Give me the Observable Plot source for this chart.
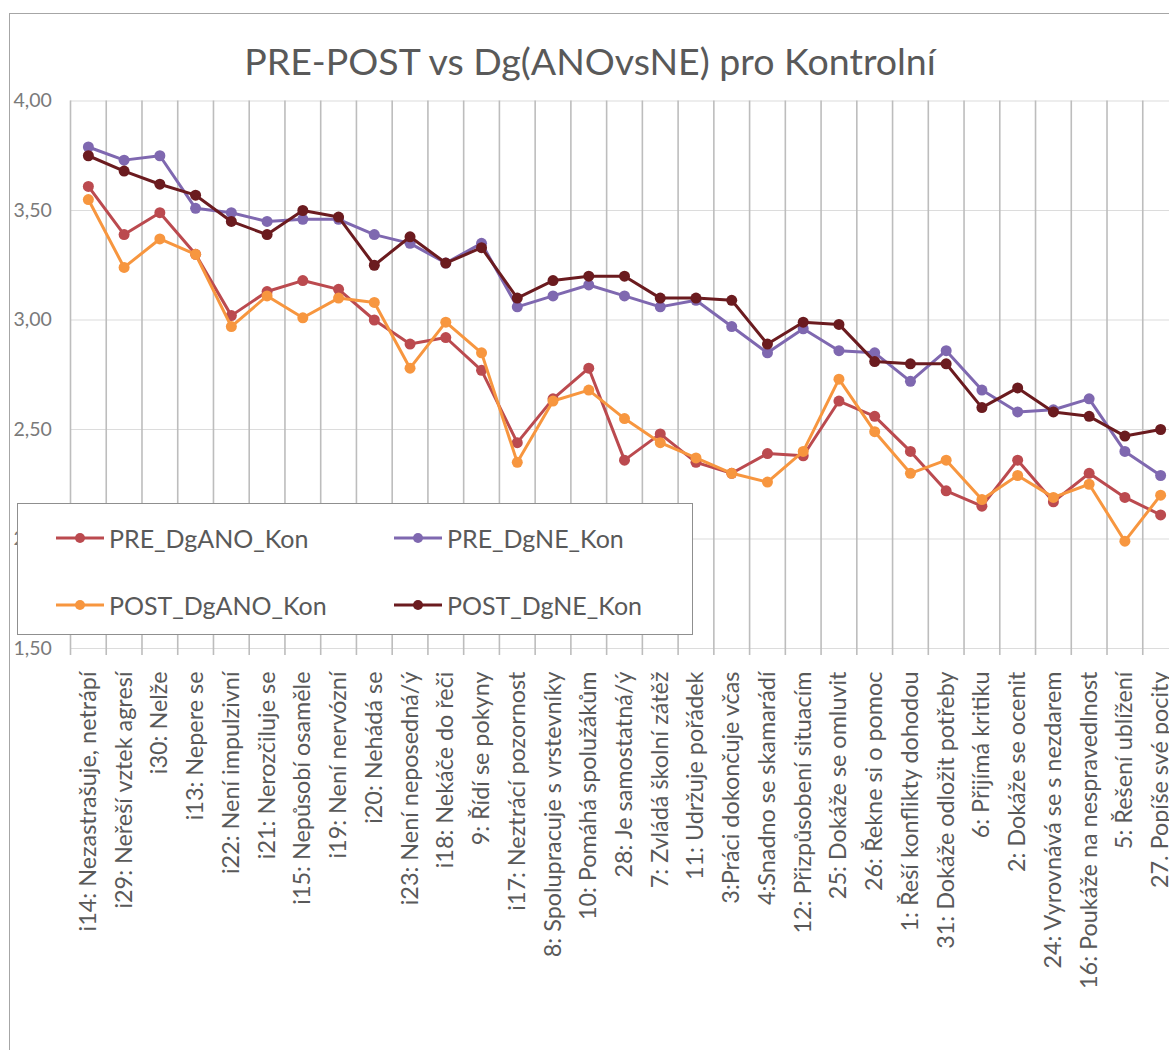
<!DOCTYPE html>
<html><head><meta charset="utf-8">
<script src="https://cdn.jsdelivr.net/npm/d3@7"></script>
<script src="https://cdn.jsdelivr.net/npm/@observablehq/plot@0.6"></script>
<style>
html,body{margin:0;padding:0;overflow:hidden;background:#fff;}
#wrap{position:relative;width:1169px;height:1050px;overflow:hidden;font-family:Lato,sans-serif;background:#fff;}
#frame{position:absolute;left:9px;top:13px;width:1300px;height:1200px;border-top:1px solid #a6a6a6;border-left:1px solid #a6a6a6;}
#title{position:absolute;left:0;width:1180px;top:42px;text-align:center;font-size:37.5px;line-height:37.5px;color:#595959;white-space:nowrap;}
#chart{position:absolute;left:0;top:0;}
#legend{position:absolute;left:17px;top:503px;width:676px;height:132px;border:1px solid #8f8f8f;background:#fff;box-sizing:border-box;}
.item{position:absolute;display:flex;align-items:center;font-size:25px;color:#595959;white-space:nowrap;}
.item svg{margin-right:5px;}
</style></head>
<body>
<div id="wrap">
<div id="frame"></div>
<div id="chart"></div>
<div id="title">PRE-POST vs Dg(ANOvsNE) pro Kontrolní</div>
<div id="legend"></div>
</div>
<script>
const categories = [
  "i14: Nezastrašuje, netrápí",
  "i29: Neřeší vztek agresí",
  "i30: Nelže",
  "i13: Nepere se",
  "i22: Není impulzivní",
  "i21: Nerozčiluje se",
  "i15: Nepůsobí osaměle",
  "i19: Není nervózní",
  "i20: Nehádá se",
  "i23: Není neposedná/ý",
  "i18: Nekáče do řeči",
  "9: Řídí se pokyny",
  "i17: Neztrácí pozornost",
  "8: Spolupracuje s vrstevníky",
  "10: Pomáhá spolužákům",
  "28: Je samostatná/ý",
  "7: Zvládá školní zátěž",
  "11: Udržuje pořádek",
  "3:Práci dokončuje včas",
  "4:Snadno se skamarádí",
  "12: Přizpůsobení situacím",
  "25: Dokáže se omluvit",
  "26: Řekne si o pomoc",
  "1: Řeší konflikty dohodou",
  "31: Dokáže odložit potřeby",
  "6: Přijímá kritiku",
  "2: Dokáže se ocenit",
  "24: Vyrovnává se s nezdarem",
  "16: Poukáže na nespravedlnost",
  "5: Řešení ublížení",
  "27. Popíše své pocity"
];

const seriesNames = ["PRE_DgANO_Kon", "PRE_DgNE_Kon", "POST_DgANO_Kon", "POST_DgNE_Kon"];
const seriesColors = ["#bb4a4f", "#7f68b0", "#f7963f", "#6b1b1f"];

const PRE_DgANO_Kon = [3.61,3.39,3.49,3.30,3.02,3.13,3.18,3.14,3.00,2.89,2.92,2.77,2.44,2.64,2.78,2.36,2.48,2.35,2.30,2.39,2.38,2.63,2.56,2.40,2.22,2.15,2.36,2.17,2.30,2.19,2.11];
const PRE_DgNE_Kon = [3.79,3.73,3.75,3.51,3.49,3.45,3.46,3.46,3.39,3.35,3.26,3.35,3.06,3.11,3.16,3.11,3.06,3.09,2.97,2.85,2.96,2.86,2.85,2.72,2.86,2.68,2.58,2.59,2.64,2.40,2.29];
const POST_DgANO_Kon = [3.55,3.24,3.37,3.30,2.97,3.11,3.01,3.10,3.08,2.78,2.99,2.85,2.35,2.63,2.68,2.55,2.44,2.37,2.30,2.26,2.40,2.73,2.49,2.30,2.36,2.18,2.29,2.19,2.25,1.99,2.20];
const POST_DgNE_Kon = [3.75,3.68,3.62,3.57,3.45,3.39,3.50,3.47,3.25,3.38,3.26,3.33,3.10,3.18,3.20,3.20,3.10,3.10,3.09,2.89,2.99,2.98,2.81,2.80,2.80,2.60,2.69,2.58,2.56,2.47,2.50];

const yTicks = [1.5, 2.0, 2.5, 3.0, 3.5, 4.0];

const seriesValues = [PRE_DgANO_Kon, PRE_DgNE_Kon, POST_DgANO_Kon, POST_DgNE_Kon];
const rows = seriesNames.map((name, k) => seriesValues[k].map((v, i) => ({i, v, s: name})));
const idx = d3.range(categories.length);
const bounds = d3.range(categories.length + 1).map(i => i - 0.5);

const chart = Plot.plot({
  width: 1190,
  height: 1050,
  marginLeft: 70,
  marginRight: 12,
  marginTop: 100.5,
  marginBottom: 402,
  style: {maxWidth: "none", fontFamily: "Lato, sans-serif", background: "transparent", overflow: "visible"},
  x: {type: "linear", domain: [-0.5, categories.length - 0.5]},
  y: {domain: [1.5, 4]},
  color: {domain: seriesNames, range: seriesColors},
  marks: [
    Plot.ruleY(yTicks, {stroke: "#dcdcdc", strokeWidth: 1.2}),
    Plot.ruleX(bounds, {y1: 4, y2: 1.5, insetBottom: -7, stroke: "#bdbdbd", strokeWidth: 1.6}),
    Plot.axisY({ticks: yTicks, tickFormat: d => d.toFixed(2).replace(".", ","), tickSize: 0, tickPadding: 57, textAnchor: "start", fontSize: 19.5, fill: "#7a7a7a", label: null}),
    Plot.axisX({ticks: idx, tickFormat: i => categories[i], tickRotate: -90, tickSize: 0, tickPadding: 23, fontSize: 23.4, fill: "#595959", label: null}),
    ...rows.flatMap(r => [
      Plot.line(r, {x: "i", y: "v", stroke: "s", strokeWidth: 3}),
      Plot.dot(r, {x: "i", y: "v", fill: "s", r: 5.5})
    ])
  ]
});
document.getElementById("chart").appendChild(chart);

// legend
const legend = document.getElementById("legend");
const pos = [[38, 34], [376, 34], [38, 101], [376, 101]];
seriesNames.forEach((name, k) => {
  const item = document.createElement("div");
  item.className = "item";
  item.style.left = pos[k][0] + "px";
  item.style.top = (pos[k][1] - 16) + "px";
  item.style.height = "32px";
  const c = seriesColors[k];
  item.innerHTML = `<svg width="48" height="14"><line x1="0" x2="48" y1="7" y2="7" stroke="${c}" stroke-width="3"/><circle cx="24" cy="7" r="5" fill="${c}"/></svg><span>${name}</span>`;
  legend.appendChild(item);
});
</script>
</body></html>
